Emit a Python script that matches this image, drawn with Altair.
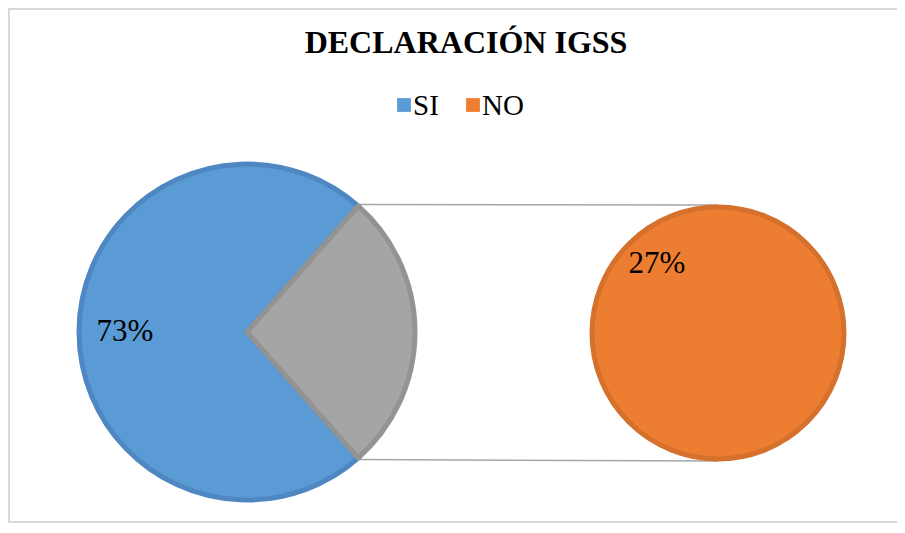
import math
import altair as alt
import pandas as pd

# ---- data ----
categories = ["SI", "NO"]
values = [73, 27]
labels = ["73%", "27%"]
title_text = "DECLARACIÓN IGSS"

fill_colors = ["#5B9BD5", "#ED7D31"]
stroke_colors = ["#4E87C1", "#D5712C"]
gray_fill = "#A5A5A5"
gray_stroke = "#939393"

FONT = "Liberation Serif"
W, H = 889, 515

total = sum(values)
no_share = values[1] / total

# layout (plot coordinates)
cx1, cy1, R1 = 239, 324, 168
cx2, cy2, R2 = 710, 325, 126
legend_sym_x = [396, 465]
legend_y = 97

start = math.pi / 2 - math.pi * no_share  # gray slice centred at 3 o'clock

left_df = pd.DataFrame({
    "cat": categories,
    "value": values,
    "ord": [1, 0],
    "shade": [fill_colors[0], gray_fill],
    "edge": [stroke_colors[0], gray_stroke],
})

left_pie = alt.Chart(left_df).mark_arc(radius=R1, strokeWidth=5, strokeJoin="miter").encode(
    theta=alt.Theta("value:Q", stack=True,
                    scale=alt.Scale(range=[start, start + 2 * math.pi])),
    order=alt.Order("ord:Q"),
    fill=alt.Fill("shade:N", scale=None),
    stroke=alt.Stroke("edge:N", scale=None),
    x=alt.value(cx1),
    y=alt.value(cy1),
)

color_scale = alt.Scale(domain=categories, range=fill_colors)

right_df = pd.DataFrame({"cat": [categories[1]], "value": [values[1]]})
right_pie = alt.Chart(right_df).mark_arc(radius=R2, strokeWidth=5, stroke=stroke_colors[1]).encode(
    theta=alt.Theta("value:Q", scale=alt.Scale(domain=[0, values[1]], range=[0, 2 * math.pi])),
    color=alt.Color("cat:N", scale=color_scale, legend=None),
    x=alt.value(cx2),
    y=alt.value(cy2),
)

# legend drawn from the categories
legend_df = pd.DataFrame({"cat": categories, "lx": legend_sym_x, "ly": [legend_y] * len(categories)})
legend_sym = alt.Chart(legend_df).mark_square(size=190, opacity=1, strokeWidth=0).encode(
    x=alt.X("lx:Q", scale=None), y=alt.Y("ly:Q", scale=None),
    color=alt.Color("cat:N", scale=color_scale, legend=None),
)
legend_txt = alt.Chart(legend_df).mark_text(
    font=FONT, fontSize=29, color="black", align="left", baseline="middle", dx=9, dy=1).encode(
    x=alt.X("lx:Q", scale=None), y=alt.Y("ly:Q", scale=None), text="cat:N",
)

# connector lines from the gray slice corners to the top/bottom of the second pie
Rc = R1 + 2
a_top = start
a_bot = start + 2 * math.pi * no_share
conn_df = pd.DataFrame({
    "x1": [cx1 + Rc * math.sin(a_top), cx1 + Rc * math.sin(a_bot)],
    "y1": [cy1 - Rc * math.cos(a_top), cy1 - Rc * math.cos(a_bot)],
    "x2": [cx2, cx2],
    "y2": [cy2 - R2 - 2, cy2 + R2 + 2],
})
connectors = alt.Chart(conn_df).mark_rule(color="#A6A6A6", strokeWidth=1.5).encode(
    x=alt.X("x1:Q", scale=None), y=alt.Y("y1:Q", scale=None),
    x2="x2:Q", y2="y2:Q",
)

# percentage labels
si_mid = start + 2 * math.pi * no_share + math.pi * (1 - no_share)
lbl_left = alt.Chart(pd.DataFrame({"t": [labels[0]]})).mark_text(
    font=FONT, fontSize=31, color="black", baseline="middle").encode(
    text="t:N", x=alt.value(cx1), y=alt.value(cy1),
    theta=alt.value(si_mid), radius=alt.value(122),
)
lbl_right = alt.Chart(pd.DataFrame({"t": [labels[1]]})).mark_text(
    font=FONT, fontSize=31, color="black", baseline="middle").encode(
    text="t:N", x=alt.value(cx2), y=alt.value(cy2),
    theta=alt.value(2 * math.pi - 0.725), radius=alt.value(92),
)

title = alt.Chart(pd.DataFrame({"t": [title_text]})).mark_text(
    font=FONT, fontSize=32, fontWeight="bold", color="black",
    baseline="alphabetic", align="center").encode(
    text="t:N", x=alt.value(458), y=alt.value(45),
)

# chart frame (left, top, bottom edges; right edge runs off the page)
border_left = alt.Chart(pd.DataFrame({"k": [0]})).mark_rule(color="#D9D9D9", strokeWidth=2).encode(
    x=alt.value(1), y=alt.value(0), y2=alt.value(H))
border_top = alt.Chart(pd.DataFrame({"k": [0]})).mark_rule(color="#D9D9D9", strokeWidth=2).encode(
    x=alt.value(0), x2=alt.value(W + 20), y=alt.value(1))
border_bottom = alt.Chart(pd.DataFrame({"k": [0]})).mark_rule(color="#D9D9D9", strokeWidth=2).encode(
    x=alt.value(0), x2=alt.value(W + 20), y=alt.value(H - 1))

chart = alt.layer(border_left, border_top, border_bottom, connectors, left_pie, right_pie,
                  legend_sym, legend_txt, lbl_left, lbl_right, title).resolve_scale(
    theta="independent"
).properties(
    width=W, height=H, padding=0, autosize=alt.AutoSizeParams(type="none"),
).configure_view(stroke="white", strokeWidth=0, strokeOpacity=0)

chart.save("out.html", embed_options={"renderer": "svg", "actions": False})
